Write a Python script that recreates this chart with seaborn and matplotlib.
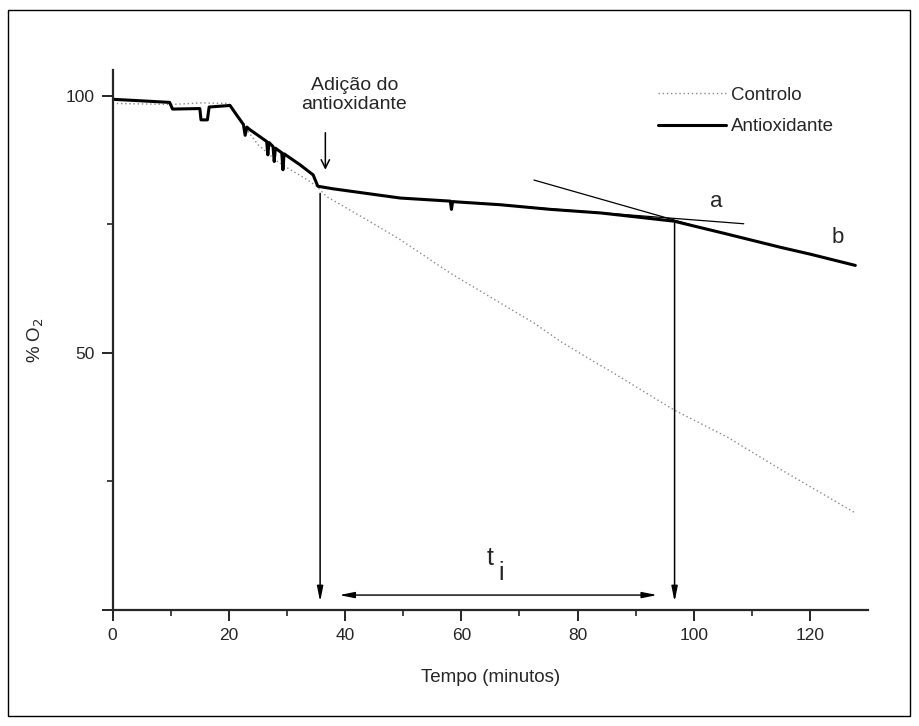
import numpy as np
import pandas as pd
import matplotlib
matplotlib.use("Agg")
from matplotlib import pyplot as plt
from matplotlib.patches import Rectangle
import seaborn as sns

# data
anti_t = [0, 5, 9.8, 10.3, 15.0, 15.2, 16.3, 16.6, 20.2, 21.3, 22.5, 22.8, 23.1,
          23.6, 25.0, 26.5, 26.7, 26.9, 27.6, 27.8, 28.0, 29.1, 29.3, 29.5, 32.2,
          34.5, 35.3, 37.9, 43.7, 49.5, 58.1, 58.3, 58.5, 66.7, 75.3, 84.0, 96.6,
          105.0, 115.0, 120.0, 127.8]
anti_v = [99.3, 99.0, 98.7, 97.4, 97.5, 95.3, 95.3, 97.8, 98.1, 96.3, 94.4, 92.3, 93.9,
          93.4, 92.3, 91.1, 88.5, 90.9, 90.1, 87.2, 89.8, 88.9, 85.6, 88.7, 86.6,
          84.6, 82.4, 81.9, 81.0, 80.1, 79.5, 77.9, 79.4, 78.8, 77.9, 77.2, 75.6,
          73.3, 70.5, 69.2, 67.0]

ctrl_t = [0, 10, 12, 15, 20, 22, 25, 28, 30, 33, 35, 36.8, 43.7, 49.5, 58.1, 66.7,
          72.5, 77.1, 82.8, 85.7, 96.6, 105.8, 115.0, 127.6]
ctrl_v = [98.5, 98.3, 98.4, 98.6, 98.5, 95.0, 90.5, 87.5, 86.0, 84.0, 82.5, 80.4, 75.9,
          72.0, 65.5, 59.7, 55.8, 52.2, 48.3, 46.4, 38.9, 33.6, 27.3, 19.0]

tan_a_t = [57, 108.6]
tan_a_v = [79.6, 75.1]
tan_b_t = [72.5, 99.5]
tan_b_v = [83.6, 74.9]

t_add, t_end = 35.7, 96.7

sns.set_style("ticks")
plt.rcParams["font.family"] = ["Liberation Sans", "DejaVu Sans"]

fig = plt.figure(figsize=(9.19, 7.26), dpi=100)
ax = fig.add_axes([0.1226, 0.1598, 0.822, 0.7438])

ctrl = pd.DataFrame({"t": ctrl_t, "v": ctrl_v})
anti = pd.DataFrame({"t": anti_t, "v": anti_v})

sns.lineplot(data=ctrl, x="t", y="v", ax=ax, color="#888888", linewidth=1.0,
             linestyle=(0, (1, 2)), label="Controlo", sort=False)
sns.lineplot(data=anti, x="t", y="v", ax=ax, color="black", linewidth=2.2,
             label="Antioxidante", sort=False)

# tangents
ax.plot(tan_a_t, tan_a_v, color="black", linewidth=0.9)
ax.plot(tan_b_t, tan_b_v, color="black", linewidth=0.9)

# vertical arrows and t_i
ap = dict(arrowstyle="-|>,head_length=0.9,head_width=0.18", color="black", lw=1.1,
          shrinkA=0, shrinkB=0)
ax.annotate("", xy=(t_add, 1.6), xytext=(t_add, 81.0), arrowprops=ap)
ax.annotate("", xy=(t_end, 1.6), xytext=(t_end, 75.2), arrowprops=ap)
ap2 = dict(arrowstyle="<|-|>,head_length=0.9,head_width=0.18", color="black", lw=1.0,
           shrinkA=0, shrinkB=0)
ax.annotate("", xy=(39.0, 2.9), xytext=(93.7, 2.9), arrowprops=ap2)
ax.text(65.0, 10.1, "t", fontsize=18, ha="center", va="center")
ax.text(66.8, 7.2, "i", fontsize=18, ha="center", va="center")

# addition arrow
ax.annotate("", xy=(36.6, 85.6), xytext=(36.6, 92.8),
            arrowprops=dict(arrowstyle="->,head_length=0.6,head_width=0.3",
                            color="black", lw=1.1, shrinkA=0, shrinkB=0))
ax.text(41.6, 100.2, "Adição do\nantioxidante", fontsize=14, ha="center",
        va="center", linespacing=1.15)

ax.text(103.8, 79.4, "a", fontsize=16, ha="center", va="center")
ax.text(124.8, 72.4, "b", fontsize=16, ha="center", va="center")

ax.set_xlim(0, 130)
ax.set_ylim(0, 105)
ax.set_xticks([0, 20, 40, 60, 80, 100, 120])
ax.set_xticks([10, 30, 50, 70, 90, 110], minor=True)
ax.set_yticks([0, 50, 100])
ax.set_yticklabels(["", "50", "100"])
ax.set_yticks([25, 75], minor=True)
ax.tick_params(which="major", direction="out", length=8, width=1.4, labelsize=12.5, pad=5)
ax.tick_params(which="minor", direction="out", length=4.5, width=1.2)
for s in ["left", "bottom"]:
    ax.spines[s].set_linewidth(1.6)
sns.despine(ax=ax)

ax.set_xlabel("Tempo (minutos)", fontsize=13.5, labelpad=19)
ax.set_ylabel("% O$_2$", fontsize=13.5, labelpad=14)

leg = ax.legend(loc="upper left", bbox_to_anchor=(0.7, 1.0), frameon=False,
                fontsize=13.5, handlelength=3.6, handletextpad=0.28, labelspacing=0.75)

# outer frame
fig.patches.append(Rectangle((8 / 919, 10 / 726), 902 / 919, 706 / 726,
                             transform=fig.transFigure, fill=False,
                             edgecolor="black", linewidth=1.0))

fig.savefig("out.png", dpi=100)
